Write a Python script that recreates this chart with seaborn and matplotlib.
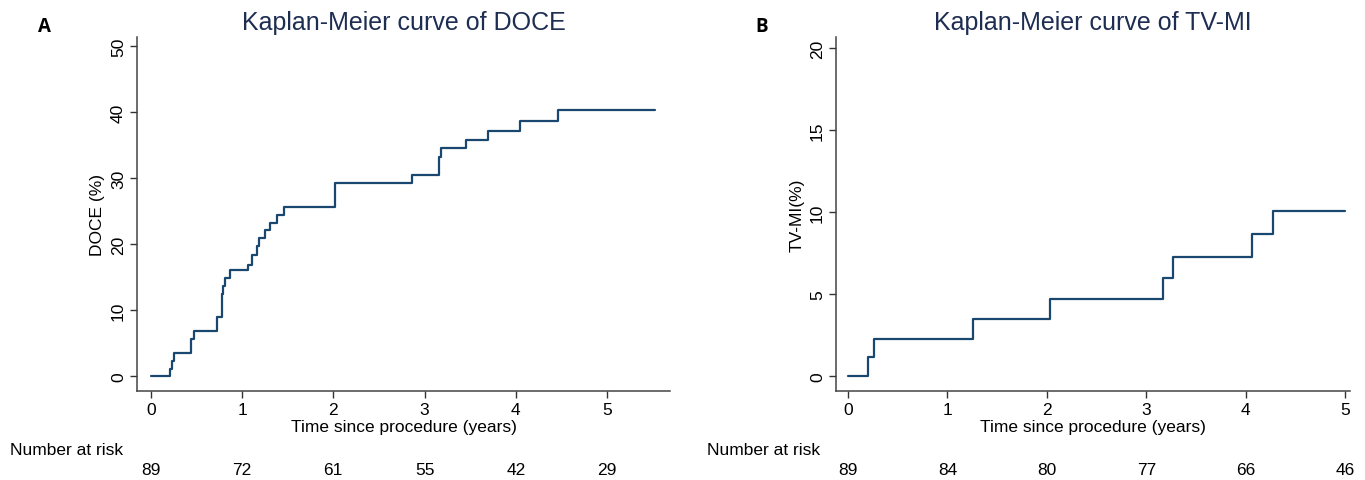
import pandas as pd
import matplotlib.pyplot as plt
import seaborn as sns

# Kaplan-Meier step values
doce_time = [0, 0.206, 0.232, 0.258, 0.442, 0.479, 0.722, 0.78, 0.787, 0.81, 0.869,
             1.068, 1.104, 1.16, 1.19, 1.25, 1.31, 1.38, 1.46, 2.02, 2.86, 3.16,
             3.18, 3.45, 3.69, 4.05, 4.46, 5.53]
doce_pct = [0, 1.1, 2.2, 3.4, 5.6, 6.8, 9.0, 12.4, 13.6, 14.8, 16.0,
            16.8, 18.4, 19.7, 20.9, 22.1, 23.2, 24.4, 25.6, 29.3, 30.5, 33.2,
            34.5, 35.8, 37.2, 38.7, 40.4, 40.4]

tvmi_time = [0, 0.20, 0.26, 1.26, 2.03, 3.17, 3.27, 4.06, 4.27, 5.0]
tvmi_pct = [0, 1.13, 2.28, 3.48, 4.69, 5.99, 7.24, 8.64, 10.06, 10.06]

risk_years = [0, 1, 2, 3, 4, 5]
doce_risk = [89, 72, 61, 55, 42, 29]
tvmi_risk = [89, 84, 80, 77, 66, 46]

sns.set_theme(style="ticks")
plt.rcParams['font.family'] = ['Liberation Sans', 'DejaVu Sans']
plt.rcParams['text.color'] = 'black'
plt.rcParams['axes.labelcolor'] = 'black'
plt.rcParams['xtick.labelcolor'] = 'black'
plt.rcParams['ytick.labelcolor'] = 'black'

navy = "#1a476f"
title_col = "#1e2d52"

fig = plt.figure(figsize=(13.65, 4.81), dpi=100)

panels = [
    dict(rect=[0.1004, 0.185, 0.3905, 0.736], t=doce_time, y=doce_pct, risk=doce_risk,
         title="Kaplan-Meier curve of DOCE", ylabel="DOCE (%)", yticks=[0, 10, 20, 30, 40, 50],
         ylim=(-2.3, 51.4), xlim=(-0.15, 5.69), letter="A", letter_x=44, risk_x=10),
    dict(rect=[0.6125, 0.185, 0.3766, 0.736], t=tvmi_time, y=tvmi_pct, risk=tvmi_risk,
         title="Kaplan-Meier curve of TV-MI", ylabel="TV-MI(%)", yticks=[0, 5, 10, 15, 20],
         ylim=(-0.92, 20.7), xlim=(-0.12, 5.05), letter="B", letter_x=762, risk_x=707),
]

for p in panels:
    ax = fig.add_axes(p["rect"])
    df = pd.DataFrame({"time": p["t"], "pct": p["y"]})
    sns.lineplot(data=df, x="time", y="pct", ax=ax, estimator=None, sort=False,
                 drawstyle="steps-post", color=navy, linewidth=1.6)
    ax.set_xlim(*p["xlim"])
    ax.set_ylim(*p["ylim"])
    ax.set_xticks(risk_years)
    ax.set_yticks(p["yticks"])
    for lab in ax.get_yticklabels():
        lab.set_rotation(90)
        lab.set_va("center")
    ax.tick_params(labelsize=12.5, length=5, width=1, color="#333333", pad=3)
    ax.set_xlabel("Time since procedure (years)", fontsize=12.5, labelpad=1)
    ax.set_ylabel(p["ylabel"], fontsize=12.5, labelpad=4)
    ax.set_title(p["title"], fontsize=18, color=title_col, pad=6)
    sns.despine(ax=ax)
    for s in ["left", "bottom"]:
        ax.spines[s].set_color("#444444")
        ax.spines[s].set_linewidth(1.1)

    fig.text(p["letter_x"] / 1365, 1 - 27 / 481, p["letter"], fontsize=13.5,
             fontweight="bold", family=["Open Sans", "DejaVu Sans"], ha="center", va="center")
    fig.text(p["risk_x"] / 1365, 1 - 451 / 481, "Number at risk", fontsize=12.5,
             ha="left", va="center")
    # risk counts under each year tick, fixed row below the axes
    risk_y = -(470 - 392) / (0.736 * 481)
    for yr, n in zip(risk_years, p["risk"]):
        ax.text(yr, risk_y, str(n), transform=ax.get_xaxis_transform(), fontsize=12.5,
                ha="center", va="center", clip_on=False)

fig.savefig("out.png", dpi=100)
